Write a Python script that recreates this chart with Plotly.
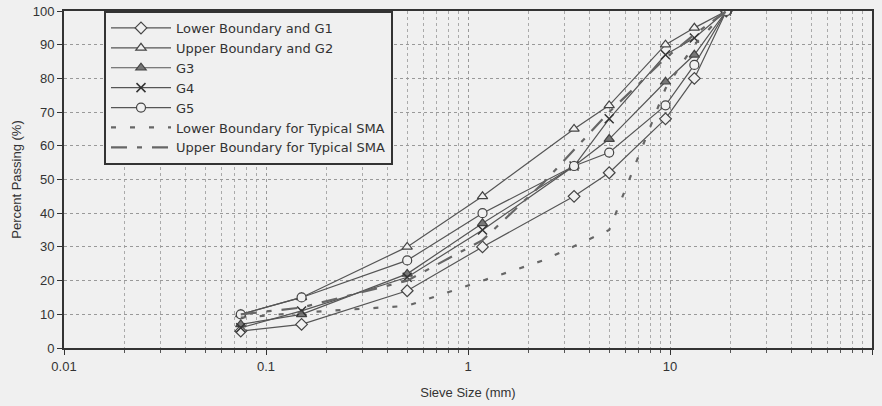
import plotly.graph_objects as go

sieve = [0.075, 0.15, 0.5, 1.18, 3.35, 5.0, 9.5, 13.2, 19.0]
g1 = [5, 7, 17, 30, 45, 52, 68, 80, 100]
g2 = [10, 15, 30, 45, 65, 72, 90, 95, 100]
g3 = [7, 10, 22, 37, 54, 62, 79, 87, 100]
g4 = [6, 11, 21, 35, 54, 68, 87, 92, 100]
g5 = [10, 15, 26, 40, 54, 58, 72, 84, 100]

sma_sieve = [0.075, 0.15, 0.5, 1.18, 2.36, 5.0, 9.5, 13.2, 19.0]
sma_low = [9, 10.5, 12.5, 20, 26, 35, 77, 90, 100]
sma_up = [10, 12, 20, 32, 49, 70, 86, 93, 100]

x_ticks = [0.01, 0.1, 1, 10, 100]
x_labels = ["0.01", "0.1", "1", "10", "100"]
y_ticks = list(range(0, 101, 10))

LC = "#555555"
fig = go.Figure()

def add(name, x, y, symbol, fill=False, dash="solid", mode="lines+markers"):
    fig.add_trace(go.Scatter(
        x=x, y=y, name=name, mode=mode,
        line=dict(color=LC, width=1.2, dash=dash),
        marker=dict(symbol=symbol, size=9,
                    color=("#777777" if fill else "#f0f0f0"),
                    line=dict(color="#444444", width=1.2)),
    ))

add("Lower Boundary and G1", sieve, g1, "diamond")
add("Upper Boundary and G2", sieve, g2, "triangle-up")
add("G3", sieve, g3, "triangle-up", fill=True)
add("G4", sieve, g4, "x-thin")
add("G5", sieve, g5, "circle")
fig.add_trace(go.Scatter(x=sma_sieve, y=sma_low, name="Lower Boundary for Typical SMA",
                         mode="lines", line=dict(color="#666666", width=2.2, dash="5px,14px")))
fig.add_trace(go.Scatter(x=sma_sieve, y=sma_up, name="Upper Boundary for Typical SMA",
                         mode="lines", line=dict(color="#666666", width=2.2, dash="16px,10px,5px,10px")))

fig.data[3].marker.line.width = 1.5
fig.data[3].marker.line.color = "#333333"

minor_vals = [m * 10 ** e for e in range(-2, 2) for m in range(2, 10)]

fig.update_layout(
    width=882, height=406,
    margin=dict(l=64, r=10, t=11, b=58, autoexpand=False),
    paper_bgcolor="#f0f0f0", plot_bgcolor="#f0f0f0",
    font=dict(family="Liberation Sans, Arial, sans-serif", size=13, color="#333333"),
    showlegend=True,
    legend=dict(x=0.0495, y=1.0, xanchor="left", yanchor="top",
                bgcolor="#f0f0f0", bordercolor="#333333", borderwidth=2,
                font=dict(family="DejaVu Sans, sans-serif", size=13, color="#333333"),
                tracegroupgap=0, itemwidth=60),
    xaxis=dict(type="log", range=[-2, 2], tickmode="array",
               tickvals=x_ticks, ticktext=x_labels, automargin=False,
               ticks="outside", ticklen=5, tickcolor="#333333",
               showline=True, linecolor="#333333", linewidth=2, mirror=True,
               showgrid=True, gridcolor="#999999", griddash="dot", gridwidth=1,
               minor=dict(tickmode="array", tickvals=minor_vals, ticks="outside", ticklen=3,
                          tickcolor="#555555", showgrid=True, gridcolor="#aaaaaa",
                          griddash="dot", gridwidth=1),
               title=dict(text="Sieve Size (mm)", font=dict(size=13), standoff=15),
               zeroline=False),
    yaxis=dict(range=[0, 100], tickmode="array", tickvals=y_ticks, automargin=False,
               ticks="outside", ticklen=5, tickcolor="#333333",
               showline=True, linecolor="#333333", linewidth=2, mirror=True,
               showgrid=True, gridcolor="#999999", griddash="dot", gridwidth=1,
               title=dict(text="Percent Passing (%)", font=dict(size=13), standoff=8),
               zeroline=False),
)

fig.write_html("out.html", config={"displayModeBar": False},
               post_script="document.body.style.margin='0';document.body.style.background='#f0f0f0';")
